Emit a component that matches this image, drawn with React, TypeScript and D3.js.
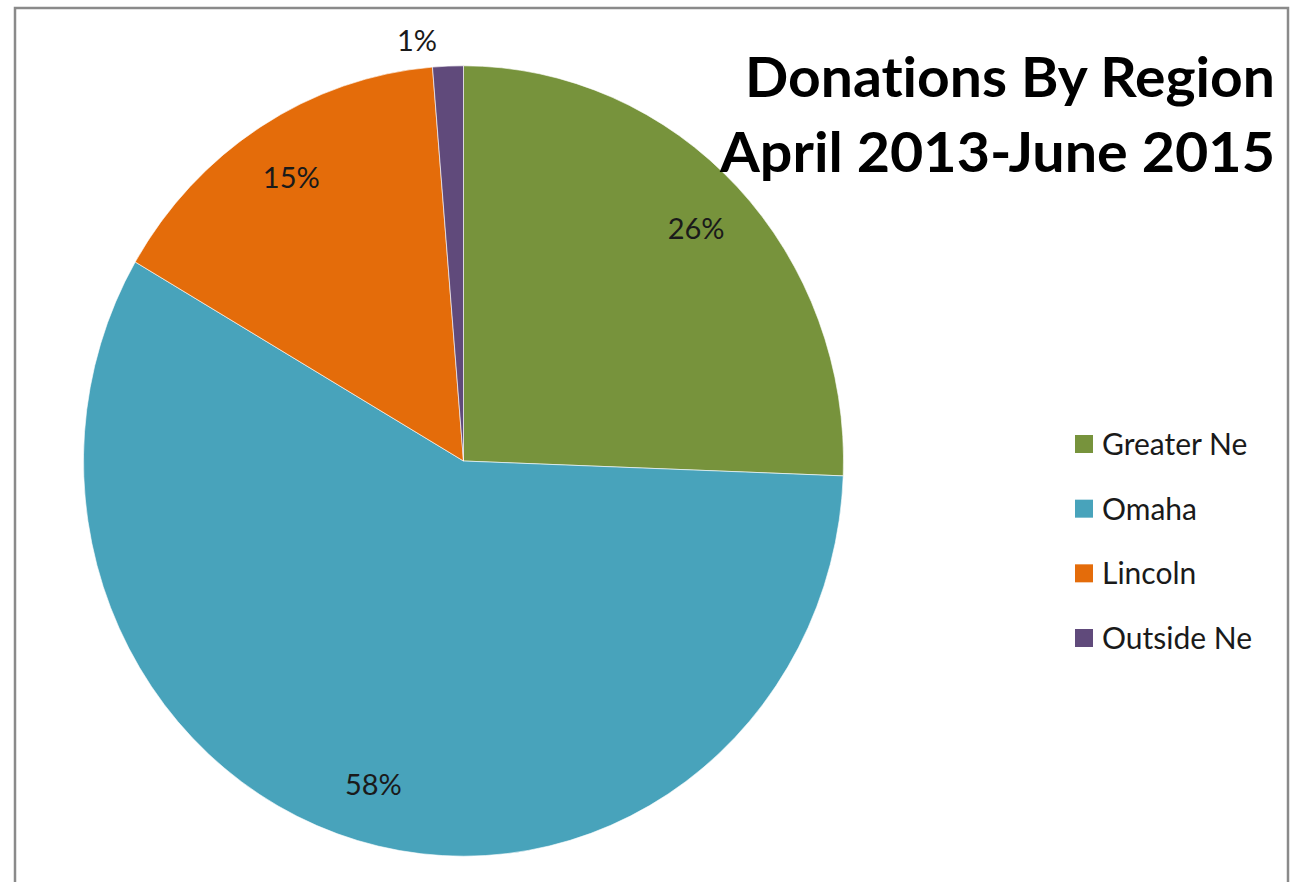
import React from "react";
import * as d3 from "d3";

const categories = ["Greater Ne", "Omaha", "Lincoln", "Outside Ne"];
const values = [25.6, 57.8, 15.3, 1.3];
const pctLabels = ["26%", "58%", "15%", "1%"];
const colors = ["#77933C", "#48A3BB", "#E46C0A", "#604A7B"];
const titleLines = ["Donations By Region", "April 2013-June 2015"];

const W = 1291;
const H = 882;
const cx = 463.5;
const cy = 461;
const R = 380;
const yScale = 1.04;

export default function App() {
  const pie = d3.pie<number>().sort(null).value((d) => d);
  const arcs = pie(values);
  const arcGen = d3.arc<d3.PieArcDatum<number>>().innerRadius(0).outerRadius(R);
  const labelArc = d3.arc<d3.PieArcDatum<number>>().innerRadius(R * 0.85).outerRadius(R * 0.85);
  const outerArc = d3.arc<d3.PieArcDatum<number>>().innerRadius(R * 1.065).outerRadius(R * 1.065);
  const font = "Lato, 'Open Sans', sans-serif";

  const legendY = d3.scalePoint<string>().domain(categories).range([444, 638]);

  return (
    <div style={{ position: "absolute", left: 0, top: 0 }}>
      <svg width={W} height={H} style={{ display: "block", background: "#fff", fontVariantLigatures: "none" }}>
        <rect x={15} y={8} width={1273} height={H + 20} fill="#fff" stroke="#8a8a8a" strokeWidth={2.5} />
        <g transform={`translate(${cx},${cy}) scale(1,${yScale})`}>
          {arcs.map((a, i) => (
            <path key={i} d={arcGen(a) || ""} fill={colors[i]} stroke="#ffffff" strokeWidth={0.6} />
          ))}
        </g>
        {arcs.map((a, i) => {
          const small = a.endAngle - a.startAngle < 0.2;
          const [x, y] = small ? outerArc.centroid(a) : labelArc.centroid(a);
          return (
            <text
              key={i}
              x={cx + x + (small ? -30 : 0)}
              y={cy + y * yScale + 11}
              textAnchor="middle"
              fontFamily={font}
              fontSize={29}
              fill="#1a1a1a"
            >
              {pctLabels[i]}
            </text>
          );
        })}
        {titleLines.map((t, i) => (
          <text
            key={t}
            x={1275}
            y={97 + i * 75}
            textAnchor="end"
            fontFamily={font}
            fontWeight="bold"
            fontSize={55}
            fill="#000"
            textLength={i === 0 ? 530 : 555}
            lengthAdjust="spacingAndGlyphs"
            style={{ fontVariantLigatures: "none" }}
          >
            {t}
          </text>
        ))}
        {categories.map((c, i) => {
          const y = legendY(c) as number;
          return (
            <g key={c}>
              <rect x={1075} y={y - 9} width={18} height={18} fill={colors[i]} />
              <text x={1102} y={y + 11} fontFamily={font} fontSize={30} fill="#1a1a1a">
                {c}
              </text>
            </g>
          );
        })}
      </svg>
    </div>
  );
}
